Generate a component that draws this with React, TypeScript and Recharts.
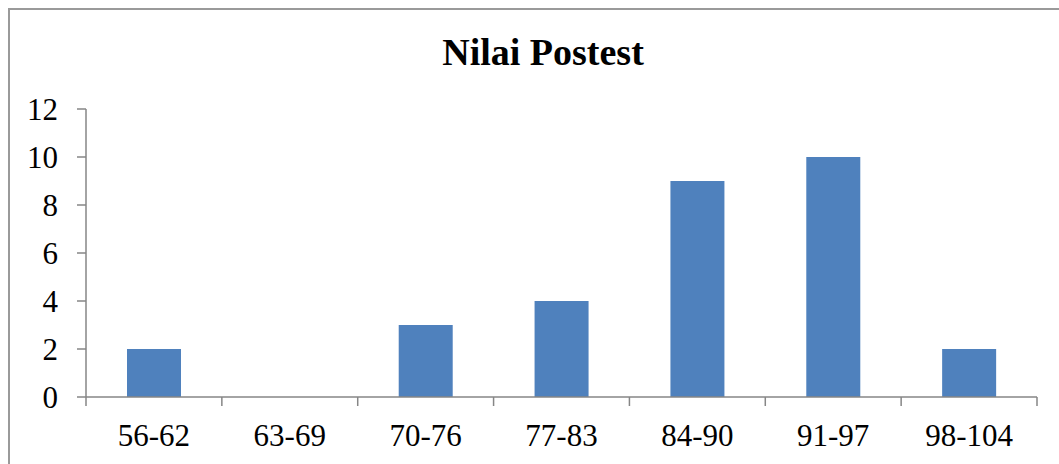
import { BarChart, Bar, XAxis, YAxis } from "recharts";

const categories = ["56-62", "63-69", "70-76", "77-83", "84-90", "91-97", "98-104"];
const counts = [2, 0, 3, 4, 9, 10, 2];
const yTicks = [0, 2, 4, 6, 8, 10, 12];
const title = "Nilai Postest";

const data = categories.map((label, i) => ({ label, value: counts[i] }));

const W = 1059;
const H = 464;
const LEFT = 86;
const RIGHT = 22;
const BAND = (W - LEFT - RIGHT) / categories.length;
const FONT = '"Liberation Serif", "Times New Roman", serif';
const AXIS = "#868686";

function XTick(props: any) {
  const { x, y, payload, index } = props;
  const half = BAND / 2;
  return (
    <g>
      <line x1={x - half} y1={y} x2={x - half} y2={y + 9} stroke={AXIS} strokeWidth={1.5} />
      {index === categories.length - 1 && (
        <line x1={x + half} y1={y} x2={x + half} y2={y + 9} stroke={AXIS} strokeWidth={1.5} />
      )}
      <text x={x} y={y + 49} textAnchor="middle" fontSize={31} fontFamily={FONT} fill="#000">
        {payload.value}
      </text>
    </g>
  );
}

export default function App() {
  return (
    <div style={{ position: "absolute", left: 0, top: 0, width: W, height: H, background: "#fff", overflow: "hidden" }}>
      <svg width={W} height={H} style={{ position: "absolute", left: 0, top: 0 }}>
        <rect x={9} y={9} width={W + 20} height={H + 20} fill="none" stroke="#9a9a9a" strokeWidth={2} />
        <text x={543} y={65} textAnchor="middle" fontSize={38} fontWeight="bold" fontFamily={FONT} fill="#000">
          {title}
        </text>
      </svg>
      <div style={{ position: "absolute", left: 0, top: 0 }}>
        <BarChart width={W} height={H} data={data} margin={{ top: 109, right: RIGHT, bottom: 0, left: 0 }}>
          <XAxis
            dataKey="label"
            axisLine={{ stroke: AXIS, strokeWidth: 1.5 }}
            tickLine={false}
            tickSize={0}
            tickMargin={0}
            interval={0}
            tick={<XTick />}
            height={67}
          />
          <YAxis
            width={LEFT}
            domain={[0, 12]}
            ticks={yTicks}
            interval={0}
            axisLine={{ stroke: AXIS, strokeWidth: 1.5 }}
            tickLine={{ stroke: AXIS, strokeWidth: 1.5 }}
            tickSize={9}
            tickMargin={19}
            tick={{ fontSize: 31, fontFamily: FONT, fill: "#000" }}
          />
          <Bar dataKey="value" fill="#4F81BD" barSize={54} isAnimationActive={false} />
        </BarChart>
      </div>
    </div>
  );
}
